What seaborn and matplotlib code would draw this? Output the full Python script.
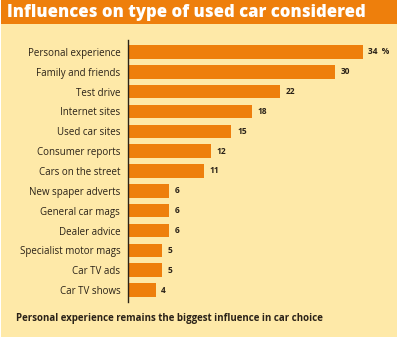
import matplotlib
matplotlib.use("Agg")
import matplotlib.pyplot as plt
from matplotlib.patches import Rectangle
import seaborn as sns
import pandas as pd

categories = [
    "Personal experience", "Family and friends", "Test drive", "Internet sites",
    "Used car sites", "Consumer reports", "Cars on the street", "New spaper adverts",
    "General car mags", "Dealer advice", "Specialist motor mags", "Car TV ads",
    "Car TV shows",
]
values = [34, 30, 22, 18, 15, 12, 11, 6, 6, 6, 5, 5, 4]
value_labels = ["34  %", "30", "22", "18", "15", "12", "11", "6", "6", "6", "5", "5", "4"]

title = "Influences on type of used car considered"
footer = "Personal experience remains the biggest influence in car choice"

ORANGE = "#EE7F0C"
CREAM = "#FEE9A8"
DARK = "#2A2218"

sns.set_theme(style="white")
plt.rcParams["font.family"] = ["Open Sans", "DejaVu Sans"]

df = pd.DataFrame({"category": categories, "value": values})

fig = plt.figure(figsize=(4.0, 3.41), dpi=100)
fig.patch.set_facecolor("white")

# cream panel and orange title band
fig.add_artist(Rectangle((1 / 400, 1 - 337 / 341), 396 / 400, 337 / 341,
                         transform=fig.transFigure, facecolor=CREAM,
                         edgecolor="none", zorder=0))
fig.add_artist(Rectangle((1 / 400, 1 - 24 / 341), 396 / 400, 24 / 341,
                         transform=fig.transFigure, facecolor=ORANGE,
                         edgecolor="none", zorder=1))
fig.text(7 / 400, 1 - 12.5 / 341, title, color="white", fontsize=12,
         fontweight="heavy", va="center", ha="left", zorder=2)

ax = fig.add_axes([128 / 400, 1 - 302 / 341, 269 / 400, 262 / 341])
ax.set_facecolor("none")
sns.barplot(data=df, x="value", y="category", orient="h", color=ORANGE,
            saturation=1, width=0.68, linewidth=0, ax=ax)

for i, (v, lab) in enumerate(zip(values, value_labels)):
    ax.text(v + 0.8, i, lab, va="center", ha="left", fontsize=6,
            fontweight="bold", color=DARK)

ax.set_xlim(0, 39)
ax.set_ylim(12.6, -0.6)
ax.set_xlabel("")
ax.set_ylabel("")
ax.set_xticks([])
ax.tick_params(axis="y", length=0, pad=5.5, labelsize=7, labelcolor=DARK)
for lbl in ax.get_yticklabels():
    lbl.set_fontweight("medium")
for s in ["top", "right", "bottom"]:
    ax.spines[s].set_visible(False)
ax.spines["left"].set_color(DARK)
ax.spines["left"].set_linewidth(1.0)

fig.text(16 / 400, 1 - 318 / 341, footer, color=DARK, fontsize=7,
         fontweight="bold", va="center", ha="left")

fig.savefig("out.png", dpi=100, facecolor=fig.get_facecolor())
